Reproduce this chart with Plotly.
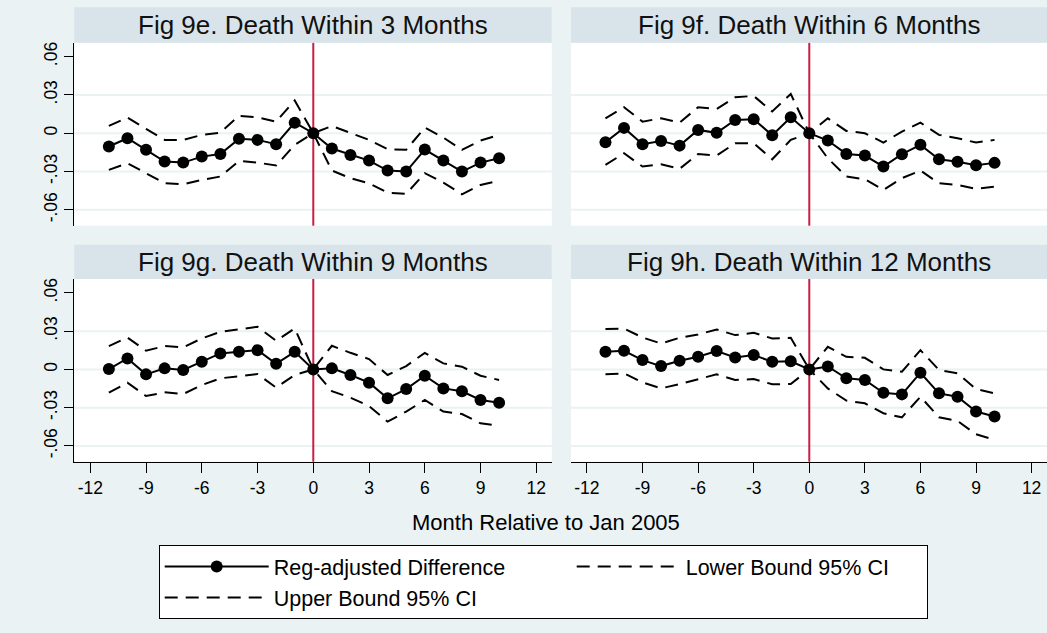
import plotly.graph_objects as go
from plotly.subplots import make_subplots

# ---------------- data ----------------
months = list(range(-11, 11))

panel_titles = [
    "Fig 9e. Death Within 3 Months",
    "Fig 9f. Death Within 6 Months",
    "Fig 9g. Death Within 9 Months",
    "Fig 9h. Death Within 12 Months",
]

# Fig 9e
e_diff = [-0.0104, -0.0039, -0.0130, -0.0222, -0.0230, -0.0183, -0.0162, -0.0044, -0.0052, -0.0086, 0.0083,
          0.0, -0.0120, -0.0170, -0.0214, -0.0292, -0.0300, -0.0128, -0.0214, -0.0300, -0.0230, -0.0196]
e_lower = [-0.0287, -0.0235, -0.0313, -0.0392, -0.0400, -0.0365, -0.0339, -0.0217, -0.0230, -0.0253, -0.0091,
           0.0, -0.0292, -0.0352, -0.0392, -0.0465, -0.0475, -0.0313, -0.0386, -0.0478, -0.0405, -0.0371]
e_upper = [0.0057, 0.0123, 0.0034, -0.0052, -0.0052, -0.0013, 0.0005, 0.0136, 0.0125, 0.0091, 0.0256,
           0.0, 0.0057, 0.0005, -0.0052, -0.0125, -0.0130, 0.0044, -0.0034, -0.0130, -0.0057, -0.0013]

# Fig 9f
f_diff = [-0.0070, 0.0042, -0.0086, -0.0060, -0.0097, 0.0026, 0.0003, 0.0104, 0.0110, -0.0016, 0.0125,
          0.0, -0.0057, -0.0162, -0.0175, -0.0261, -0.0164, -0.0091, -0.0204, -0.0224, -0.0250, -0.0232]
f_lower = [-0.0248, -0.0157, -0.0261, -0.0243, -0.0279, -0.0162, -0.0175, -0.0078, -0.0078, -0.0204, -0.0052,
           0.0, -0.0196, -0.0339, -0.0360, -0.0444, -0.0352, -0.0292, -0.0392, -0.0405, -0.0436, -0.0418]
f_upper = [0.0117, 0.0204, 0.0091, 0.0117, 0.0083, 0.0204, 0.0190, 0.0282, 0.0292, 0.0170, 0.0308,
           0.0, 0.0117, 0.0018, 0.0000, -0.0073, 0.0013, 0.0083, -0.0013, -0.0039, -0.0073, -0.0052]

# Fig 9g
g_diff = [0.0003, 0.0086, -0.0039, 0.0008, -0.0005, 0.0060, 0.0125, 0.0138, 0.0151, 0.0044, 0.0138,
          0.0, 0.0008, -0.0044, -0.0104, -0.0227, -0.0154, -0.0050, -0.0149, -0.0172, -0.0240, -0.0261]
g_lower = [-0.0183, -0.0104, -0.0209, -0.0180, -0.0193, -0.0123, -0.0070, -0.0055, -0.0037, -0.0143, -0.0044,
           0.0, -0.0170, -0.0222, -0.0287, -0.0410, -0.0331, -0.0240, -0.0331, -0.0350, -0.0423, -0.0443]
g_upper = [0.0183, 0.0250, 0.0146, 0.0183, 0.0172, 0.0243, 0.0295, 0.0316, 0.0334, 0.0224, 0.0321,
           0.0, 0.0185, 0.0130, 0.0081, -0.0044, 0.0026, 0.0130, 0.0047, 0.0021, -0.0050, -0.0083]

# Fig 9h
h_diff = [0.0138, 0.0146, 0.0073, 0.0026, 0.0068, 0.0099, 0.0144, 0.0094, 0.0112, 0.0060, 0.0063,
          0.0, 0.0023, -0.0070, -0.0083, -0.0183, -0.0196, -0.0026, -0.0188, -0.0214, -0.0331, -0.0370]
h_lower = [-0.0039, -0.0031, -0.0102, -0.0149, -0.0115, -0.0078, -0.0039, -0.0083, -0.0076, -0.0117, -0.0115,
           0.0, -0.0149, -0.0245, -0.0266, -0.0344, -0.0376, -0.0214, -0.0376, -0.0404, -0.0509, -0.0553]
h_upper = [0.0316, 0.0321, 0.0250, 0.0203, 0.0248, 0.0274, 0.0313, 0.0269, 0.0287, 0.0243, 0.0248,
           0.0, 0.0177, 0.0099, 0.0091, 0.0000, -0.0018, 0.0151, -0.0005, -0.0031, -0.0154, -0.0188]

series_names = ["Reg-adjusted Difference", "Lower Bound 95% CI", "Upper Bound 95% CI"]

y_tick_vals = [-0.06, -0.03, 0, 0.03, 0.06]
y_tick_text = ["-.06", "-.03", "0", ".03", ".06"]
grid_vals = [-0.06, -0.03, 0, 0.03]
x_tick_vals = [-12, -9, -6, -3, 0, 3, 6, 9, 12]
x_tick_text = ["-12", "-9", "-6", "-3", "0", "3", "6", "9", "12"]
event_month = 0
x_title = "Month Relative to Jan 2005"

# ---------------- styling ----------------
W, H = 1047, 633
BG = "#EAF2F3"
STRIP = "#D8E4EA"
RED = "#C81E46"
FONT = "Liberation Sans, Arial, Helvetica, sans-serif"
DASH = "13px,8px"

panels = [
    (1, 1, e_diff, e_lower, e_upper),
    (1, 2, f_diff, f_lower, f_upper),
    (2, 1, g_diff, g_lower, g_upper),
    (2, 2, h_diff, h_lower, h_upper),
]

fig = make_subplots(rows=2, cols=2)

for i, (r, c, d, lo, up) in enumerate(panels):
    first = i == 0
    fig.add_trace(go.Scatter(
        x=months, y=d, mode="lines+markers", name=series_names[0],
        line=dict(color="black", width=2),
        marker=dict(color="black", size=12, line=dict(width=0)),
        showlegend=first, legendrank=1), row=r, col=c)
    fig.add_trace(go.Scatter(
        x=months, y=lo, mode="lines", name=series_names[1],
        line=dict(color="black", width=2, dash=DASH),
        showlegend=first, legendrank=2, legendwidth=236), row=r, col=c)
    fig.add_trace(go.Scatter(
        x=months, y=up, mode="lines", name=series_names[2],
        line=dict(color="black", width=2, dash=DASH),
        showlegend=first, legendrank=3), row=r, col=c)

# domains (pixel-derived fractions)
xl = [74.3 / W, 551.7 / W]
xr = [571.0 / W, 1.0]
yt = [1 - 225.7 / H, 1 - 42.7 / H]
yb = [1 - 461.7 / H, 1 - 279.0 / H]

x_range = [-12.86, 12.83]
y_range = [-0.0724, 0.0709]

axis_font = dict(family=FONT, size=17.5, color="black")

common_x = dict(range=x_range, showgrid=False, zeroline=False, tickvals=x_tick_vals,
                ticktext=x_tick_text, tickfont=axis_font, fixedrange=True, automargin=False,
                ticklabeloverflow="allow")
common_y = dict(range=y_range, showgrid=False, zeroline=False, tickvals=y_tick_vals,
                ticktext=y_tick_text, tickfont=axis_font, fixedrange=True, automargin=False)

fig.update_layout(
    xaxis=dict(domain=xl, showline=False, ticks="", showticklabels=False, **common_x),
    xaxis2=dict(domain=xr, showline=False, ticks="", showticklabels=False, **common_x),
    xaxis3=dict(domain=xl, showline=True, linecolor="black", linewidth=1.2, ticks="outside",
                ticklen=10, tickwidth=1.2, tickcolor="black", **common_x),
    xaxis4=dict(domain=xr, showline=True, linecolor="black", linewidth=1.2, ticks="outside",
                ticklen=10, tickwidth=1.2, tickcolor="black", **common_x),
    yaxis=dict(domain=yt, showline=True, linecolor="black", linewidth=1.2, ticks="outside",
               ticklen=9, tickwidth=1.2, tickcolor="black", tickangle=-90, **common_y),
    yaxis2=dict(domain=yt, showline=False, ticks="", showticklabels=False, **common_y),
    yaxis3=dict(domain=yb, showline=True, linecolor="black", linewidth=1.2, ticks="outside",
                ticklen=9, tickwidth=1.2, tickcolor="black", tickangle=-90, **common_y),
    yaxis4=dict(domain=yb, showline=False, ticks="", showticklabels=False, **common_y),
)

# gridlines (no gridline at the top tick) and event line
axis_ids = [("x", "y"), ("x2", "y2"), ("x3", "y3"), ("x4", "y4")]
for (xa, ya) in axis_ids:
    for gv in grid_vals:
        fig.add_shape(type="line", xref=f"{xa} domain", yref=ya, x0=0, x1=1, y0=gv, y1=gv,
                      line=dict(color=BG, width=2), layer="below")
    fig.add_shape(type="line", xref=xa, yref=f"{ya} domain", x0=event_month, x1=event_month,
                  y0=0, y1=1, line=dict(color=RED, width=2), layer="below")

# title strips
strip_h_top = 35.4 / 183.0
strip_h_bot = 34.3 / 182.7
for (xa, ya), title, sh in zip(axis_ids, panel_titles, [strip_h_top, strip_h_top, strip_h_bot, strip_h_bot]):
    fig.add_shape(type="rect", xref=f"{xa} domain", yref=f"{ya} domain", x0=0, x1=1, y0=1, y1=1 + sh,
                  fillcolor=STRIP, line=dict(width=0), layer="below")
    fig.add_annotation(text=title, xref=f"{xa} domain", yref=f"{ya} domain", x=0.5, y=1 + sh / 2,
                       xanchor="center", yanchor="middle", showarrow=False,
                       font=dict(family=FONT, size=26, color="#111111"))

fig.add_annotation(text=x_title, xref="paper", yref="paper", x=546 / W, y=1 - 522.7 / H,
                   xanchor="center", yanchor="middle", showarrow=False,
                   font=dict(family=FONT, size=22, color="black"))

fig.update_layout(
    width=W, height=H,
    margin=dict(l=0, r=0, t=0, b=0, autoexpand=False),
    paper_bgcolor=BG, plot_bgcolor="white",
    font=dict(family=FONT, color="black"),
    legend=dict(orientation="h", x=158.7 / W, y=1 - 545 / H, xanchor="left", yanchor="top",
                bgcolor="white", bordercolor="black", borderwidth=1,
                font=dict(family=FONT, size=21.5, color="black"),
                itemwidth=104, entrywidth=293, entrywidthmode="pixels",
                traceorder="normal"),
    hovermode=False,
)

fig.write_html(
    "out.html",
    config={"displayModeBar": False},
    post_script="document.body.style.margin='0px'; document.body.style.overflow='hidden';",
)
